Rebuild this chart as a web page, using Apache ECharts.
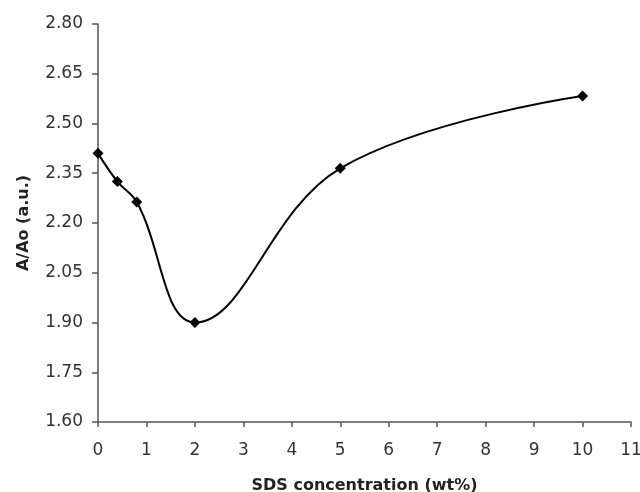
<!DOCTYPE html>
<html>
<head>
<meta charset="utf-8">
<script src="https://cdn.jsdelivr.net/npm/echarts@6/dist/echarts.min.js"></script>
<style>
  html, body { margin: 0; padding: 0; background: #fff; }
  #chart { width: 640px; height: 492px; }
</style>
</head>
<body>
<div id="chart"></div>
<script>
// SDS concentration (wt%) vs A/Ao
var concentration = [0, 0.4, 0.8, 2, 5, 10];
var ratio = [2.41, 2.325, 2.263, 1.90, 2.365, 2.583];

var points = [];
for (var i = 0; i < concentration.length; i++) {
  points.push([concentration[i], ratio[i]]);
}

var chart = echarts.init(document.getElementById("chart"));
var axisColor = "#555";
var labelStyle = {
  color: "#333",
  fontFamily: "DejaVu Sans",
  fontSize: 17,
};
var nameStyle = {
  color: "#222",
  fontFamily: "DejaVu Sans",
  fontWeight: "bold",
  fontSize: 16,
};

chart.setOption({
  animation: false,
  grid: { left: 98, right: 9, top: 24, bottom: 70, outerBoundsMode: "none", containLabel: false },
  xAxis: {
    type: "value",
    min: 0,
    max: 11,
    interval: 1,
    name: "SDS concentration (wt%)",
    nameLocation: "middle",
    nameGap: 56,
    nameTextStyle: nameStyle,
    axisLine: { lineStyle: { color: axisColor, width: 1.5 } },
    axisTick: { show: true, length: 5, lineStyle: { color: axisColor, width: 1.5 } },
    axisLabel: Object.assign({ margin: 20 }, labelStyle),
    splitLine: { show: false },
  },
  yAxis: {
    type: "value",
    min: 1.6,
    max: 2.8,
    interval: 0.15,
    name: "A/Ao (a.u.)",
    nameLocation: "middle",
    nameGap: 66,
    nameTextStyle: nameStyle,
    axisLine: { show: true, lineStyle: { color: axisColor, width: 1.5 } },
    axisTick: { show: true, length: 6, lineStyle: { color: axisColor, width: 1.5 } },
    axisLabel: Object.assign({ margin: 15, formatter: function (v) { return v.toFixed(2); } }, labelStyle),
    splitLine: { show: false },
  },
  series: [
    {
      type: "line",
      data: points,
      smooth: 0.4,
      symbol: "diamond",
      symbolSize: 11,
      lineStyle: { color: "#000", width: 2 },
      itemStyle: { color: "#000" },
    },
  ],
});
</script>
</body>
</html>
